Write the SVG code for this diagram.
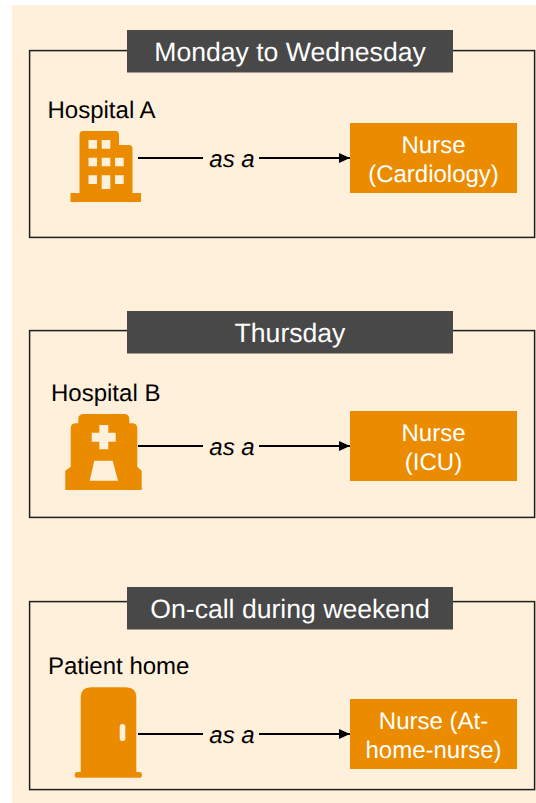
<svg xmlns="http://www.w3.org/2000/svg" width="536" height="803" viewBox="0 0 536 803">
<defs>
<style>
text{font-family:"Liberation Sans",Arial,sans-serif;font-size:24px;text-rendering:geometricPrecision}
.frame{fill:none;stroke:#1f1f1f;stroke-width:1.5}
.bar{fill:#484848}
.bt{fill:#fff;font-size:26.6px;text-anchor:middle}
.box{fill:#eb8c00}
.nt{fill:#fff;text-anchor:middle}
.icon{fill:#eb8c00}
.hole{fill:#fff0dc}
.lbl{fill:#000}
.as{fill:#000;font-style:italic;text-anchor:middle}
.line{fill:none;stroke:#000;stroke-width:2}
</style>
<marker id="arrow" markerUnits="userSpaceOnUse" markerWidth="11" markerHeight="10" refX="11" refY="5" orient="auto"><path d="M0 0L11 5L0 10Z" fill="#000"/></marker>
</defs>
<rect x="12" y="5" width="524" height="798" fill="#fff0dc"/>
<g id="connectors">
<path class="line" d="M138 158H203"/><path class="line" d="M259 158H350" marker-end="url(#arrow)"/>
<path class="line" d="M138 446H203"/><path class="line" d="M259 446H350" marker-end="url(#arrow)"/>
<path class="line" d="M138 734H203"/><path class="line" d="M259 734H350" marker-end="url(#arrow)"/>
<text class="as" x="232" y="167">as a</text>
<text class="as" x="232" y="455">as a</text>
<text class="as" x="232" y="743">as a</text>
</g>
<g id="panel-1">
<rect class="frame" x="29.6" y="50.6" width="505" height="186.8"/>
<rect class="bar" x="127" y="30" width="326" height="42.5"/>
<text class="bt" x="290" y="61">Monday to Wednesday</text>
</g>
<g id="hospital-a">
<text class="lbl" x="47.5" y="118">Hospital A</text>
<path class="icon" d="M83 131H115.500Q119 131 119 135V145H129Q132.500 145 132.500 149V193H141V202H70.500V193H79.500V135Q79.500 131 83 131Z"/>
<path class="hole" d="M88.500 140H97V148.700H88.500ZM101.700 140H110.300V148.700H101.700ZM88.500 157.700H97V166.300H88.500ZM101.700 157.700H110.300V166.300H101.700ZM115 157.700H123.700V166.300H115ZM88.500 175.300H97V184H88.500ZM101.700 175.300H110.300V189H101.700ZM115 175.300H123.700V184H115Z"/>
</g>
<g id="nurse-cardiology">
<rect class="box" x="350" y="123" width="167" height="70"/>
<text class="nt" x="433.500" y="153">Nurse</text>
<text class="nt" x="433.500" y="182">(Cardiology)</text>
</g>
<g id="panel-2">
<rect class="frame" x="29.6" y="330.600" width="505" height="186.8"/>
<rect class="bar" x="127" y="311" width="326" height="42.500"/>
<text class="bt" x="290" y="342">Thursday</text>
</g>
<g id="hospital-b">
<text class="lbl" x="51" y="401">Hospital B</text>
<path class="icon" d="M84 414H124Q129.300 414 129.300 419V423.300H132Q137.300 423.300 137.300 428.500V466.700L141.700 470.700V490H65.300V470.700L70.700 466.700V428.500Q70.700 423.300 76 423.300H78.300V419Q78.300 414 84 414Z"/>
<path class="hole" d="M99.300 425H108.300V432.700H115.700V441.700H108.300V449.300H99.300V441.700H91.700V432.700H99.300ZM94.300 460.700H112.700L118 480.700H89.700Z"/>
</g>
<g id="nurse-icu">
<rect class="box" x="350" y="411" width="167" height="70"/>
<text class="nt" x="433.500" y="441">Nurse</text>
<text class="nt" x="433.500" y="470">(ICU)</text>
</g>
<g id="panel-3">
<rect class="frame" x="29.6" y="601.600" width="505" height="188"/>
<rect class="bar" x="127" y="587" width="326" height="42.500"/>
<text class="bt" x="290" y="618">On-call during weekend</text>
</g>
<g id="patient-home">
<text class="lbl" x="48" y="674">Patient home</text>
<path class="icon" d="M91 687.300H126Q136.300 687.300 136.300 697.500V772H139Q142 772 142 774.900Q142 777.700 139 777.700H77.500Q74.700 777.700 74.700 774.900Q74.700 772 77.500 772H80.700V697.500Q80.700 687.300 91 687.300Z"/>
<rect class="hole" x="119.700" y="724" width="5.600" height="17" rx="2.800"/>
</g>
<g id="nurse-home">
<rect class="box" x="350" y="699" width="167" height="70"/>
<text class="nt" x="433.500" y="729">Nurse (At-</text>
<text class="nt" x="433.500" y="758">home-nurse)</text>
</g>
</svg>
